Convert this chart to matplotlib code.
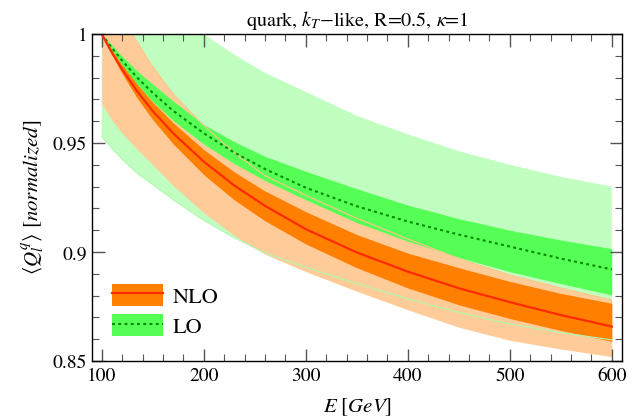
import numpy as np
import matplotlib
matplotlib.use("Agg")
import matplotlib.pyplot as plt
from matplotlib.patches import Patch
from matplotlib.lines import Line2D

plt.rcParams['font.family'] = ['STIXGeneral', 'DejaVu Serif']
plt.rcParams['mathtext.fontset'] = 'stix'

# values
energy = [100, 110, 120, 135, 150, 170, 200, 230, 260, 300, 350, 400, 450, 500, 550, 600]

nlo = [1.0, 0.9915, 0.9838, 0.9736, 0.9647, 0.9545, 0.9415, 0.9305, 0.9212, 0.9105,
       0.8998, 0.891, 0.8834, 0.877, 0.8711, 0.8658]
nlo_scale_hi = [1.0, 0.9925, 0.9858, 0.9768, 0.9687, 0.9593, 0.947, 0.9367, 0.928, 0.9185,
                0.908, 0.8995, 0.8928, 0.8865, 0.881, 0.8765]
nlo_scale_lo = [1.0, 0.9905, 0.9818, 0.9704, 0.9607, 0.9496, 0.9355, 0.9239, 0.9143, 0.9037,
                0.8928, 0.8835, 0.8758, 0.8695, 0.864, 0.859]
nlo_wide_hi = [1.03, 1.019, 1.009, 0.996, 0.985, 0.9725, 0.958, 0.9455, 0.935, 0.926,
               0.9155, 0.906, 0.897, 0.8895, 0.8835, 0.878]
nlo_wide_lo = [0.968, 0.9605, 0.9545, 0.947, 0.940, 0.9305, 0.918, 0.9075, 0.899, 0.891,
               0.882, 0.8735, 0.8655, 0.8595, 0.8555, 0.852]

lo = [1.0, 0.9936, 0.9878, 0.9799, 0.973, 0.9648, 0.9545, 0.9456, 0.9381, 0.9295,
      0.921, 0.914, 0.908, 0.9025, 0.897, 0.892]
lo_scale_hi = [1.0, 0.9948, 0.9898, 0.9829, 0.977, 0.9693, 0.9585, 0.9506, 0.9439, 0.937,
               0.929, 0.9215, 0.9153, 0.910, 0.9055, 0.9015]
lo_scale_lo = [1.0, 0.9924, 0.9856, 0.9768, 0.969, 0.9603, 0.9495, 0.9405, 0.9328, 0.924,
               0.9135, 0.905, 0.8975, 0.891, 0.8855, 0.8803]
lo_wide_hi = [1.06, 1.05, 1.042, 1.031, 1.023, 1.013, 1.0, 0.9905, 0.9822, 0.9735,
              0.9625, 0.954, 0.9463, 0.940, 0.9345, 0.930]
lo_wide_lo = [0.953, 0.9475, 0.9425, 0.936, 0.931, 0.924, 0.9145, 0.9065, 0.8995, 0.893,
              0.8855, 0.8785, 0.8723, 0.867, 0.863, 0.8597]

xticks = [100, 200, 300, 400, 500, 600]
yticks = [0.85, 0.9, 0.95, 1.0]
ytick_labels = ['0.85', '0.9', '0.95', '1']

c_lgreen = '#c0ffc0'
c_green = '#55ff55'
c_peach = '#ffcc99'
c_orange = '#ff8000'
c_red = '#ff2a00'
c_dgreen = '#008a00'

fig = plt.figure(figsize=(6.42, 4.17), dpi=100)
ax = fig.add_axes([92/642, 56/417, 530/642, 327/417])

ax.fill_between(energy, lo_wide_lo, lo_wide_hi, color=c_lgreen, lw=0)
ax.fill_between(energy, nlo_wide_lo, nlo_wide_hi, color=c_peach, lw=0)
ax.fill_between(energy, lo_scale_lo, lo_scale_hi, color=c_green, lw=0)
ax.fill_between(energy, nlo_scale_lo, nlo_scale_hi, color=c_orange, lw=0)

# thin boundary curves of the wide bands show through the other fills
ax.plot(energy, lo_wide_lo, color='#b0f8b0', lw=0.8)
ax.plot(energy, nlo_wide_hi, color='#ffc489', lw=0.8)

ax.plot(energy, lo, color=c_dgreen, lw=1.5, dashes=(1.4, 1.6))
ax.plot(energy, nlo, color=c_red, lw=1.6)

ax.set_xlim(90.5, 610)
ax.set_ylim(0.85, 1.0)
ax.set_xticks(xticks)
ax.set_xticks(np.arange(100, 601, 20), minor=True)
ax.set_yticks(yticks)
ax.set_yticklabels(ytick_labels)
ax.set_yticks(np.arange(0.85, 1.001, 0.01), minor=True)
ax.tick_params(which='both', direction='in', top=True, right=True, labelsize=14,
               color='#555555')
ax.tick_params(which='major', length=9, width=1)
ax.tick_params(which='minor', length=5, width=0.8)
ax.tick_params(axis='x', pad=5)
for s in ax.spines.values():
    s.set_linewidth(1.0)

ax.set_xlabel(r'$E\ [GeV]$', fontsize=15, labelpad=8)
ax.set_ylabel(r'$\langle Q_l^q\rangle\ [normalized]$', fontsize=15, labelpad=4)
ax.set_title(r'quark, $k_T$$-$like, R=0.5, $\kappa$=1', fontsize=14.5, pad=6)

handles = [(Patch(color=c_orange, lw=0), Line2D([], [], color=c_red, lw=1.6)),
           (Patch(color=c_green, lw=0), Line2D([], [], color=c_dgreen, lw=1.5, dashes=(1.4, 1.6)))]
ax.legend(handles, ['NLO', 'LO'], loc='upper left', bbox_to_anchor=(0.037, 0.235),
          frameon=False, fontsize=16, handlelength=2.3, handleheight=1.15,
          handletextpad=0.45, labelspacing=0.3, borderpad=0, borderaxespad=0)

fig.savefig('out.png', dpi=100)
